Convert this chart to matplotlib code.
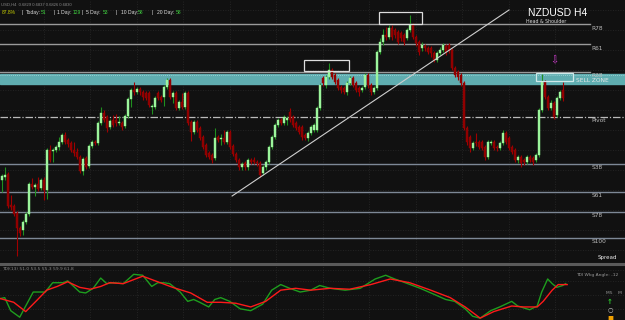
import numpy as np
import matplotlib.pyplot as plt
from matplotlib.patches import Rectangle
from matplotlib.lines import Line2D

# NZDUSD H4 prices in pips (1e-4)
opens = [6930, 6936, 6942, 6880, 6878, 6864, 6834, 6830, 6846, 6862,
         6922, 6916, 6922, 6914, 6930, 6910, 6990, 6988, 6990, 6996,
         7006, 7020, 7010, 7004, 6990, 6986, 6976, 6948, 6974, 6958,
         6998, 7006, 7004, 7044, 7064, 7056, 7036, 7050, 7050, 7044,
         7044, 7038, 7058, 7092, 7110, 7106, 7112, 7106, 7104, 7104,
         7076, 7076, 7104, 7096, 7096, 7116, 7130, 7096, 7104, 7074,
         7086, 7076, 7104, 7046, 7026, 7046, 7034, 7016, 7000, 6984,
         6980, 6974, 7016, 7012, 7014, 7006, 7026, 6998, 6982, 6970,
         6956, 6964, 6956, 6970, 6970, 6966, 6964, 6944, 6956, 6966,
         6996, 7016, 7040, 7050, 7044, 7050, 7066, 7056, 7044, 7036,
         7036, 7020, 7014, 7024, 7030, 7030, 7074, 7134, 7120, 7136,
         7150, 7140, 7130, 7116, 7114, 7106, 7124, 7134, 7124, 7114,
         7110, 7116, 7140, 7120, 7106, 7114, 7186, 7206, 7220, 7216,
         7234, 7230, 7226, 7224, 7220, 7214, 7230, 7240, 7216, 7206,
         7194, 7198, 7194, 7194, 7184, 7170, 7184, 7190, 7198, 7200,
         7190, 7154, 7146, 7140, 7124, 7034, 7016, 6994, 7006, 7006,
         7006, 6996, 6976, 7004, 7006, 6996, 6994, 7004, 7024, 7014,
         6996, 6990, 6970, 6976, 6970, 6966, 6976, 6974, 6970, 6980,
         7070, 7126, 7096, 7074, 7084, 7060, 7094, 7110]
highs = [6942, 6956, 6946, 6900, 6882, 6868, 6838, 6850, 6866, 6926,
         6934, 6924, 6936, 6934, 6936, 6994, 7000, 6994, 7000, 7016,
         7024, 7026, 7014, 7008, 7006, 6994, 6980, 6976, 6978, 7002,
         7010, 7010, 7048, 7076, 7070, 7060, 7052, 7060, 7062, 7058,
         7048, 7062, 7096, 7114, 7126, 7116, 7116, 7110, 7108, 7108,
         7082, 7098, 7108, 7100, 7120, 7134, 7134, 7108, 7108, 7090,
         7104, 7108, 7108, 7050, 7050, 7050, 7038, 7020, 7004, 6988,
         6984, 7034, 7020, 7022, 7030, 7030, 7030, 7002, 6986, 6974,
         6966, 6968, 6974, 6974, 6976, 6970, 6968, 6960, 6970, 7000,
         7020, 7044, 7054, 7054, 7060, 7058, 7074, 7060, 7048, 7040,
         7040, 7024, 7028, 7040, 7044, 7078, 7124, 7138, 7140, 7164,
         7154, 7144, 7134, 7120, 7118, 7128, 7138, 7138, 7128, 7118,
         7118, 7144, 7144, 7124, 7118, 7190, 7214, 7232, 7236, 7240,
         7240, 7234, 7230, 7228, 7224, 7234, 7260, 7244, 7220, 7210,
         7206, 7202, 7198, 7198, 7188, 7188, 7196, 7204, 7202, 7204,
         7194, 7158, 7150, 7144, 7128, 7038, 7020, 7008, 7024, 7010,
         7010, 7000, 7010, 7010, 7010, 7000, 7008, 7030, 7028, 7018,
         7000, 6994, 6980, 6980, 6974, 6980, 6980, 6978, 6984, 7074,
         7142, 7130, 7100, 7090, 7088, 7098, 7110, 7126]
lows = [6906, 6930, 6874, 6870, 6858, 6778, 6818, 6820, 6842, 6858,
        6912, 6898, 6908, 6910, 6890, 6892, 6966, 6966, 6986, 6990,
        7002, 7002, 6996, 6986, 6978, 6972, 6944, 6940, 6952, 6954,
        6994, 7000, 7000, 7040, 7046, 7026, 7032, 7036, 7038, 7040,
        7030, 7034, 7054, 7076, 7100, 7102, 7100, 7090, 7090, 7076,
        7062, 7072, 7090, 7086, 7078, 7112, 7092, 7084, 7070, 7070,
        7072, 7072, 7040, 7008, 7022, 7026, 7010, 6992, 6976, 6972,
        6964, 6970, 7006, 7000, 7002, 7002, 6992, 6978, 6966, 6950,
        6950, 6950, 6950, 6962, 6962, 6958, 6936, 6940, 6950, 6962,
        6992, 7012, 7036, 7040, 7040, 7040, 7046, 7036, 7030, 7022,
        7010, 7010, 7008, 7020, 7026, 7026, 7070, 7118, 7114, 7132,
        7132, 7122, 7110, 7104, 7102, 7100, 7120, 7116, 7106, 7098,
        7106, 7112, 7114, 7100, 7102, 7110, 7182, 7200, 7210, 7212,
        7210, 7214, 7202, 7208, 7200, 7210, 7226, 7212, 7198, 7180,
        7188, 7188, 7182, 7176, 7166, 7166, 7180, 7186, 7180, 7184,
        7150, 7136, 7130, 7118, 7030, 7000, 6986, 6990, 6998, 6992,
        6990, 6970, 6972, 7000, 6990, 6988, 6990, 7000, 7002, 6990,
        6982, 6966, 6964, 6956, 6960, 6962, 6966, 6960, 6966, 6976,
        7066, 7092, 7070, 7070, 7052, 7056, 7090, 7088]
closes = [6938, 6940, 6878, 6876, 6862, 6834, 6824, 6846, 6862, 6922,
          6916, 6920, 6912, 6930, 6910, 6990, 6970, 6990, 6996, 7006,
          7020, 7006, 7002, 6990, 6984, 6976, 6948, 6972, 6956, 6998,
          7006, 7004, 7044, 7064, 7050, 7034, 7048, 7040, 7044, 7046,
          7036, 7058, 7092, 7110, 7106, 7112, 7106, 7096, 7094, 7080,
          7078, 7094, 7094, 7090, 7116, 7130, 7096, 7104, 7074, 7086,
          7076, 7104, 7044, 7026, 7046, 7030, 7014, 6996, 6980, 6976,
          6970, 7014, 7010, 7014, 7006, 7026, 6996, 6982, 6970, 6956,
          6962, 6956, 6970, 6966, 6966, 6964, 6940, 6956, 6966, 6996,
          7016, 7040, 7050, 7044, 7056, 7054, 7050, 7040, 7034, 7026,
          7016, 7014, 7024, 7036, 7040, 7074, 7120, 7124, 7136, 7150,
          7136, 7126, 7114, 7110, 7106, 7124, 7134, 7120, 7110, 7106,
          7114, 7140, 7120, 7106, 7114, 7186, 7206, 7220, 7216, 7234,
          7216, 7220, 7206, 7214, 7206, 7230, 7240, 7216, 7204, 7186,
          7200, 7194, 7186, 7184, 7170, 7184, 7190, 7200, 7186, 7190,
          7154, 7140, 7136, 7124, 7034, 7006, 6994, 7004, 7004, 6996,
          6994, 6976, 7006, 7006, 6994, 6994, 7004, 7024, 7006, 6994,
          6986, 6970, 6976, 6964, 6966, 6976, 6970, 6966, 6980, 7070,
          7126, 7096, 7074, 7084, 7056, 7094, 7106, 7094]

# fib / pivot levels
level_names = ["R78", "R61", "R38", "Pivot", "S38", "S61", "S78", "S100"]
level_prices = [0.7242, 0.7202, 0.7146, 0.7056, 0.6962, 0.6906, 0.6866, 0.6814]
sell_zone = (0.7122, 0.7142)

# head & shoulders boxes: (bar start, bar end, low, high)
boxes = [(100.8, 115.8, 0.7148, 0.7170),
         (125.8, 140.1, 0.7242, 0.7266),
         (178.0, 190.4, 0.7128, 0.7144)]
trend_bars = [76.8, 169.1]
trend_prices = [0.6898, 0.7270]

# header stats
stat_labels = ["Today:", "1 Day:", "5 Day:", "10 Day:", "20 Day:"]
stat_values = ["51", "129", "53", "58", "58"]

# TDI lines
green_bars = [-0.5, 1, 3, 6, 10.5, 14.5, 17, 20.5, 22, 26, 28, 30.5, 33, 35, 37, 40.5,
              44, 47, 50, 52, 54, 56, 59.5, 62, 64, 66, 69, 71, 73,
              76, 79.5, 83, 87, 90, 93, 96, 99.5, 103, 106, 109.5, 114.5, 119.5, 124.5,
              128, 131, 134.5, 139.5, 144.5, 148, 151, 154.5, 157, 159.5,
              163, 166, 170, 172, 174, 176, 178.5, 180, 182, 183.5, 185, 187, 188]
green_vals = [41, 42, 28, 21, 48, 48, 58, 58, 60, 48, 47, 52, 63, 57, 58, 57,
              67, 66, 54, 58, 58, 57, 48, 38, 40, 37, 32, 40, 42,
              38, 30, 28, 35, 50, 56, 52, 48, 50, 55, 52, 50, 52, 62,
              66, 62, 58, 52, 45, 40, 38, 30, 22, 20,
              28, 32, 38, 33, 31, 29, 33, 48, 62, 57, 53, 55, 57]
red_bars = [-0.5, 4, 8, 12, 15, 18.5, 22, 26, 29.5, 33, 36, 40.5, 47, 52, 57, 63, 68.5, 73,
            78, 83, 88, 93, 98, 103, 109.5, 116, 123, 129.5, 136, 143, 149.5, 154.5, 159.5,
            164, 170, 174, 178.5, 180.5, 183.5, 185.5, 188.5]
red_vals = [41, 37, 27, 40, 50, 54, 59, 53, 51, 54, 58, 57, 65, 59, 53, 47, 37, 37,
            36, 32, 38, 50, 52, 50, 52, 51, 56, 62, 58, 50, 42, 32, 20,
            27, 33, 32, 32, 38, 50, 56, 56]

bg = "#111111"
W, H = 625, 320
fig = plt.figure(figsize=(6.25, 3.2), dpi=100, facecolor=bg)
ax = fig.add_axes([0, 1 - 262 / H, 1, 262 / H])
axi = fig.add_axes([0, 0, 1, 55 / H])
for a in (ax, axi):
    a.set_facecolor(bg)
    a.set_xticks([])
    a.set_yticks([])
    for s in a.spines.values():
        s.set_visible(False)

x0, x1 = -0.57, 207.77
ax.set_xlim(x0, x1)
ax.set_ylim(0.6766, 0.7290)

# faint dotted grid
for gx in np.arange(14, 200, 15.5):
    ax.axvline(gx, color="#2a2a2a", lw=0.6, ls=(0, (1, 2)), zorder=0)
    axi.axvline(gx, color="#2a2a2a", lw=0.6, ls=(0, (1, 2)), zorder=0)
for gy in np.arange(0.6790, 0.7290, 0.0040):
    ax.axhline(gy, color="#2a2a2a", lw=0.6, ls=(0, (1, 2)), zorder=0)

# sell zone
ax.axhspan(sell_zone[0], sell_zone[1], color="#5fadb0", zorder=1)
ax.axhline(sell_zone[1] - 0.0002, color="#a8dcdc", lw=0.6, ls=(0, (1, 1.5)), zorder=1)

# levels
for name, p in zip(level_names, level_prices):
    if name == "Pivot":
        ax.axhline(p, color="#bbbbbb", lw=0.9, ls=(0, (6, 1.5, 1, 1.5)), zorder=1)
    elif name.startswith("R"):
        ax.plot([x0, 196], [p, p], color="#9a9a9a", lw=1.0, zorder=1)
    else:
        ax.axhline(p, color="#7d8896", lw=1.0, zorder=1)
    ax.text(196.5, p - 0.0003, name, color="#bbbbbb", fontsize=4.2,
            va="top", ha="left", zorder=5)
ax.text(191.5, 0.7130, "SELL ZONE", color="#e8e8e8", fontsize=4.2,
        va="center", ha="left", zorder=5)

# candles
o = np.array(opens) / 1e4
h = np.array(highs) / 1e4
l = np.array(lows) / 1e4
c = np.array(closes) / 1e4
idx = np.arange(len(o))
up = c >= o
ax.vlines(idx[up], l[up], h[up], color="#1f8f1f", lw=0.8, zorder=2)
ax.vlines(idx[~up], l[~up], h[~up], color="#a00000", lw=0.8, zorder=2)
body = np.maximum(np.abs(c - o), 0.00025)
ax.bar(idx[up], body[up], bottom=np.minimum(o, c)[up], width=0.65,
       color="#9cf59c", edgecolor="#9cf59c", lw=0.3, zorder=3)
ax.bar(idx[~up], body[~up], bottom=np.minimum(o, c)[~up], width=0.65,
       color="#8e0000", edgecolor="#a00000", lw=0.3, zorder=3)

# trend line and boxes
ax.plot(trend_bars, trend_prices, color="#cfcfcf", lw=0.8, zorder=4)
for k, (b0, b1, p0, p1) in enumerate(boxes):
    ec = "#dddddd" if k < 2 else "#cfe9e9"
    ax.add_patch(Rectangle((b0, p0), b1 - b0, p1 - p0, fill=False,
                           ec=ec, lw=0.9, zorder=4))
ax.text(184.1, 0.7160, "\u21e9", color="#d23cd2", fontsize=7,
        ha="center", va="bottom", zorder=5)

# header
fig.text(1 / W, 1 - 5 / H, "USD,H4  0.6829 0.6837 0.6826 0.6830",
         color="#8a8a8a", fontsize=3.0, va="center", family="Liberation Sans")
hfont = dict(fontsize=3.6, va="center", family="Liberation Sans")
hy = 1 - 12.5 / H
fig.text(2 / W, hy, "87.8%", color="#c8d000", **hfont)
bar_x = [22, 53, 81, 116, 152]
lab_x = [26, 57, 86, 121, 157]
val_x = [41, 73, 103, 138, 176]
for bx, lx, vx, lab, val in zip(bar_x, lab_x, val_x, stat_labels, stat_values):
    fig.text(bx / W, hy, "|", color="#dddddd", **hfont)
    fig.text(lx / W, hy, lab, color="#dddddd", **hfont)
    fig.text(vx / W, hy, val, color="#3fcf3f", **hfont)

fig.text(0.8448, 1 - 13 / H, "NZDUSD H4", color="white", fontsize=7.5,
         family="Liberation Sans", ha="left", va="center")
fig.text(0.8736, 1 - 21.5 / H, "Head & Shoulder", color="#dddddd", fontsize=3.4,
         ha="center", va="center")
fig.text(0.957, 1 - 258 / H, "Spread", color="#eeeeee", fontsize=4, ha="left", va="center")

# separator
fig.add_artist(Line2D([0, 1], [1 - 263.5 / H] * 2, color="#5a5a5a", lw=2.2))

# indicator
axi.set_xlim(x0, x1)
axi.set_ylim(18, 77)
for gy in [30, 45, 60, 72]:
    axi.axhline(gy, color="#2a2a2a", lw=0.6, ls=(0, (1, 2)), zorder=0)
axi.plot(green_bars, green_vals, color="#1e9e1e", lw=1.0, zorder=3)
axi.plot(red_bars, red_vals, color="#ff1a1a", lw=1.0, zorder=4)
axi.text(0.003, 0.97, "TDI(13) 51.0 53.5 55.3 59.9 61.8", transform=axi.transAxes,
         color="#8a8a8a", fontsize=3.2, va="top")
fig.text(0.922, 1 - 275 / H, "TDI Wkg Angle: -12", color="#9a9a9a", fontsize=3.2,
         ha="left", va="center")
fig.text(0.97, 1 - 293 / H, "M5    M", color="#9a9a9a", fontsize=3.2,
         ha="left", va="center")
fig.text(0.976, 1 - 302 / H, "\u2191", color="#2ecc2e", fontsize=5, ha="center",
         va="center", fontweight="bold")
fig.text(0.976, 1 - 310 / H, "\u25cb", color="#cccccc", fontsize=4.5, ha="center",
         va="center")
fig.text(0.976, 1 - 318 / H, "\u25a0", color="#f0a000", fontsize=4.5, ha="center",
         va="center")

fig.savefig("out.png", dpi=100, facecolor=bg)
